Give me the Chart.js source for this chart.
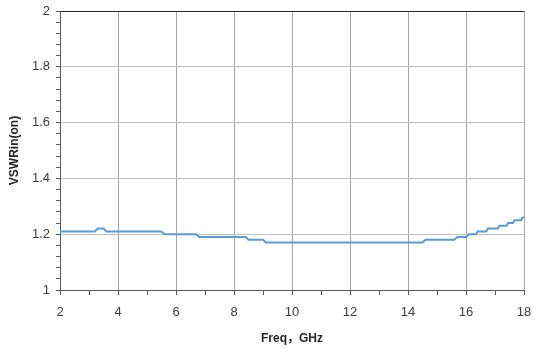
<!DOCTYPE html>
<html>
<head>
<meta charset="utf-8">
<script src="https://cdn.jsdelivr.net/npm/chart.js@4/dist/chart.umd.min.js"></script>
<style>
  html, body { margin: 0; padding: 0; background: #fff; }
  #wrap { width: 533px; height: 348px; }
</style>
</head>
<body>
<div id="wrap"><canvas id="vswrChart" width="533" height="348"></canvas></div>
<script>
// measured VSWR (input, "on" state) vs frequency
const freqGHz = [2, 3.2, 3.3, 3.5, 3.6, 5.5, 5.6, 6.7, 6.8, 8.4, 8.5, 9.0, 9.1, 14.5, 14.6, 15.6, 15.7, 16.0, 16.1, 16.35, 16.4, 16.7, 16.75, 17.1, 17.15, 17.4, 17.45, 17.62, 17.67, 17.9, 17.95, 18];
const vswr = [1.21, 1.21, 1.22, 1.22, 1.21, 1.21, 1.20, 1.20, 1.19, 1.19, 1.18, 1.18, 1.17, 1.17, 1.18, 1.18, 1.19, 1.19, 1.20, 1.20, 1.21, 1.21, 1.22, 1.22, 1.23, 1.23, 1.24, 1.24, 1.25, 1.25, 1.26, 1.26];

const xLabels = [2, 4, 6, 8, 10, 12, 14, 16, 18];
const yLabels = [1, 1.2, 1.4, 1.6, 1.8, 2];

const isLabelled = (list, v) => list.some((t) => Math.abs(t - v) < 1e-6);

const tickFont = { family: "'Liberation Sans', sans-serif", size: 13 };
const titleFont = { family: "'Liberation Sans', 'Noto Sans CJK SC', sans-serif", size: 12, weight: "bold" };

new Chart(document.getElementById("vswrChart"), {
  type: "line",
  data: {
    datasets: [
      {
        data: freqGHz.map((f, i) => ({ x: f, y: vswr[i] })),
        borderColor: "#5b9bd5",
        borderWidth: 2,
        pointRadius: 0,
        tension: 0,
        fill: false,
      },
    ],
  },
  options: {
    responsive: false,
    animation: false,
    layout: { padding: { top: 11, right: 9, left: 0, bottom: 0 } },
    plugins: { legend: { display: false }, tooltip: { enabled: false } },
    scales: {
      x: {
        type: "linear",
        min: 2,
        max: 18,
        afterFit: (scale) => {
          scale.height = 58;
          scale.paddingLeft = 0;
          scale.paddingRight = 0;
        },
        ticks: {
          stepSize: 1,
          autoSkip: false,
          maxRotation: 0,
          color: "#404040",
          font: tickFont,
          padding: 10,
          callback: (v) => (isLabelled(xLabels, v) ? String(v) : ""),
        },
        grid: {
          color: (ctx) => {
            const v = ctx.tick ? ctx.tick.value : null;
            if (v === null || v === 2) return "rgba(0,0,0,0)";
            return isLabelled(xLabels, v) ? "#a6a6a6" : "rgba(0,0,0,0)";
          },
          tickColor: "#595959",
          tickLength: 5,
        },
        border: { color: "#595959", width: 1 },
        title: {
          display: true,
          text: "Freq，GHz",
          color: "#262626",
          font: titleFont,
          padding: { top: 4, bottom: 2 },
        },
      },
      y: {
        min: 1,
        max: 2,
        afterFit: (scale) => {
          scale.width = 60;
          scale.paddingTop = 0;
          scale.paddingBottom = 0;
        },
        ticks: {
          stepSize: 0.04,
          autoSkip: false,
          color: "#404040",
          font: tickFont,
          padding: 6,
          callback: (v) => (isLabelled(yLabels, v) ? String(Math.round(v * 10) / 10) : ""),
        },
        grid: {
          color: (ctx) => {
            const v = ctx.tick ? ctx.tick.value : null;
            if (v === null || Math.abs(v - 1) < 1e-6) return "rgba(0,0,0,0)";
            if (Math.abs(v - 2) < 1e-6) return "#262626";
            return isLabelled(yLabels, v) ? "#bfbfbf" : "rgba(0,0,0,0)";
          },
          tickColor: "#595959",
          tickLength: 4,
        },
        border: { color: "#595959", width: 1 },
        title: {
          display: true,
          text: "VSWRin(on)",
          color: "#262626",
          font: titleFont,
          padding: { top: 7, bottom: 0 },
        },
      },
    },
  },
});
</script>
</body>
</html>
